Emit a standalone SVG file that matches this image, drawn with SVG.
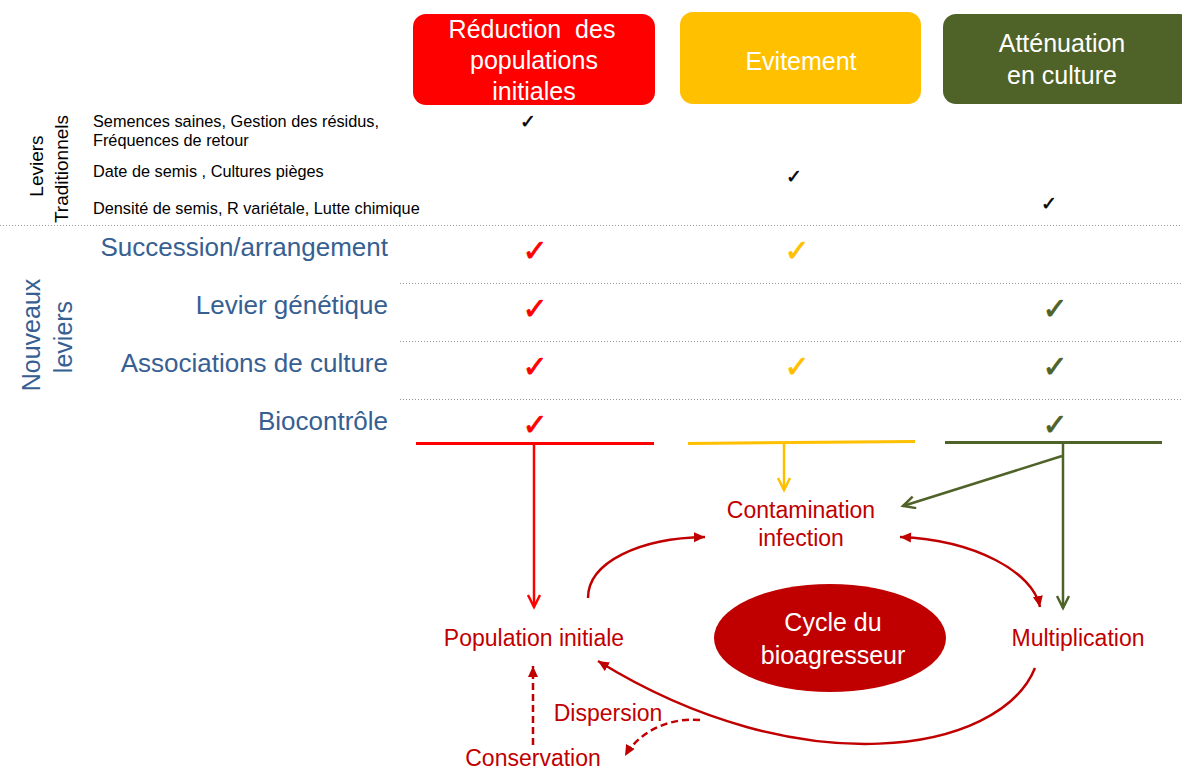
<svg xmlns="http://www.w3.org/2000/svg" width="1182" height="770" viewBox="0 0 1182 770">
<style>
text{font-family:"Liberation Sans",Arial,sans-serif}
.hdr{font-size:25px;fill:#fff;text-anchor:middle}
.sm{font-size:16.3px;fill:#000}
.blue{font-size:26px;fill:#376092;text-anchor:end}
.vt{font-size:19px;fill:#000;text-anchor:middle}
.vb{font-size:25px;fill:#376092;text-anchor:middle}
.cyc{font-size:23px;fill:#C00000;text-anchor:middle}
.chk{font-family:"DejaVu Sans",sans-serif;text-anchor:middle}
.dot{stroke:#999;stroke-width:1;stroke-dasharray:1 2;fill:none}
.c{fill:none;stroke:#C00000;stroke-width:2.5}
</style>
<defs>
<marker id="chR" markerUnits="userSpaceOnUse" markerWidth="20" markerHeight="20" refX="14" refY="7" orient="auto"><path d="M2,1 L14,7 L2,13" fill="none" stroke="#FF0000" stroke-width="2.5"/></marker>
<marker id="chY" markerUnits="userSpaceOnUse" markerWidth="20" markerHeight="20" refX="14" refY="7" orient="auto"><path d="M2,1 L14,7 L2,13" fill="none" stroke="#FFC000" stroke-width="2.5"/></marker>
<marker id="chG" markerUnits="userSpaceOnUse" markerWidth="20" markerHeight="20" refX="14" refY="7" orient="auto"><path d="M2,1 L14,7 L2,13" fill="none" stroke="#4F6228" stroke-width="2.5"/></marker>
<marker id="trD" markerUnits="userSpaceOnUse" markerWidth="16" markerHeight="16" refX="11" refY="5" orient="auto"><path d="M0,0 L11,5 L0,10 Z" fill="#C00000"/></marker>
<marker id="trDs" markerUnits="userSpaceOnUse" markerWidth="16" markerHeight="16" refX="0" refY="5" orient="auto"><path d="M11,0 L0,5 L11,10 Z" fill="#C00000"/></marker>
</defs>

<g id="header-reduction"><rect x="413" y="14" width="242" height="91" rx="13" fill="#FF0000"/><text class="hdr" x="532" y="38" xml:space="preserve">Réduction  des</text><text class="hdr" x="534" y="69">populations</text><text class="hdr" x="534" y="100">initiales</text></g>
<g id="header-evitement"><rect x="680" y="12" width="241" height="92" rx="13" fill="#FFC000"/><text class="hdr" x="801" y="70">Evitement</text></g>
<g id="header-attenuation"><rect x="943" y="14" width="250" height="90" rx="13" fill="#4F6228"/><text class="hdr" x="1062" y="52">Atténuation</text><text class="hdr" x="1062" y="84">en culture</text></g>

<g id="grid">
<line class="dot" x1="0" y1="225.5" x2="1182" y2="225.5"/>
<line class="dot" x1="400" y1="283.5" x2="1182" y2="283.5"/>
<line class="dot" x1="400" y1="341.5" x2="1182" y2="341.5"/>
<line class="dot" x1="400" y1="399.5" x2="1182" y2="399.5"/>
</g>

<g id="traditional">
<text class="vt" transform="translate(43,166) rotate(-90)">Leviers</text>
<text class="vt" transform="translate(68,169) rotate(-90)">Traditionnels</text>
<text class="sm" x="93" y="127">Semences saines, Gestion des résidus,</text>
<text class="sm" x="93" y="146">Fréquences de retour</text>
<text class="sm" x="93" y="177">Date de semis , Cultures pièges</text>
<text class="sm" x="93" y="214">Densité de semis, R variétale, Lutte chimique</text>
<g font-size="19" fill="#000" stroke="#000" stroke-width="0.5">
<text class="chk" x="528" y="128">✓</text>
<text class="chk" x="794" y="183">✓</text>
<text class="chk" x="1049" y="210">✓</text>
</g>
</g>

<g id="new">
<text class="vb" transform="translate(40,335) rotate(-90)">Nouveaux</text>
<text class="vb" transform="translate(72,337) rotate(-90)">leviers</text>
<text class="blue" x="388" y="256">Succession/arrangement</text>
<text class="blue" x="388" y="314">Levier génétique</text>
<text class="blue" x="388" y="372">Associations de culture</text>
<text class="blue" x="388" y="430">Biocontrôle</text>
<g font-size="30" stroke-width="0.8">
<text class="chk" x="535" y="261" fill="#FF0000" stroke="#FF0000">✓</text>
<text class="chk" x="797" y="261" fill="#FFC000" stroke="#FFC000">✓</text>
<text class="chk" x="535" y="319" fill="#FF0000" stroke="#FF0000">✓</text>
<text class="chk" x="1055" y="319" fill="#4F6228" stroke="#4F6228">✓</text>
<text class="chk" x="535" y="377" fill="#FF0000" stroke="#FF0000">✓</text>
<text class="chk" x="797" y="377" fill="#FFC000" stroke="#FFC000">✓</text>
<text class="chk" x="1055" y="377" fill="#4F6228" stroke="#4F6228">✓</text>
<text class="chk" x="535" y="435" fill="#FF0000" stroke="#FF0000">✓</text>
<text class="chk" x="1055" y="435" fill="#4F6228" stroke="#4F6228">✓</text>
</g>
</g>

<g id="cycle-center"><ellipse cx="830" cy="638" rx="116" ry="54" fill="#C00000"/><text x="833" y="631" font-size="25" fill="#fff" text-anchor="middle">Cycle du</text><text x="833" y="664" font-size="25" fill="#fff" text-anchor="middle">bioagresseur</text></g>
<g id="contamination"><text class="cyc" x="801" y="518">Contamination</text><text class="cyc" x="801" y="546">infection</text></g>
<g id="population"><text class="cyc" x="534" y="646">Population initiale</text></g>
<g id="multiplication"><text class="cyc" x="1078" y="646">Multiplication</text></g>
<g id="conservation"><text class="cyc" x="533" y="766">Conservation</text></g>
<g id="dispersion"><text class="cyc" x="608" y="721">Dispersion</text></g>

<g id="connectors">
<line x1="416" y1="443.5" x2="654" y2="443.5" stroke="#FF0000" stroke-width="3"/>
<line x1="688" y1="443.5" x2="915" y2="441.5" stroke="#FFC000" stroke-width="3"/>
<line x1="945" y1="442.5" x2="1162" y2="442.5" stroke="#4F6228" stroke-width="3"/>
<line x1="534" y1="443" x2="534" y2="607" stroke="#FF0000" stroke-width="2.5" marker-end="url(#chR)"/>
<line x1="784" y1="443" x2="784" y2="490" stroke="#FFC000" stroke-width="2.5" marker-end="url(#chY)"/>
<line x1="1063" y1="443" x2="1063" y2="608" stroke="#4F6228" stroke-width="2.5" marker-end="url(#chG)"/>
<line x1="1062" y1="456" x2="903" y2="506" stroke="#4F6228" stroke-width="2.5" marker-end="url(#chG)"/>
<path class="c" d="M588,598 C588,562 640,538 705,537" marker-end="url(#trD)"/>
<path class="c" d="M900,537 C975,540 1033,572 1040,607" marker-start="url(#trDs)" marker-end="url(#trD)"/>
<path class="c" d="M1035,668 C1000,754 800,786 598,661" marker-end="url(#trD)"/>
<path class="c" d="M533,745 L533,666" stroke-dasharray="7 4" marker-end="url(#trD)"/>
<path class="c" d="M700,720 C665,717 637,735 625,756" stroke-dasharray="7 4" marker-end="url(#trD)"/>
</g>
</svg>
